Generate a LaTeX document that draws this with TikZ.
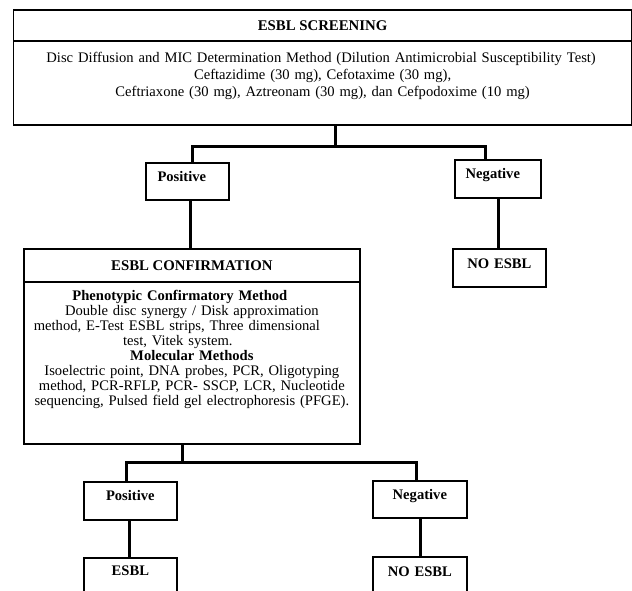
\documentclass[tikz,border=0pt]{standalone}
\usepackage{fontspec}
\setmainfont{Liberation Serif}
\begin{document}
\begin{tikzpicture}[x=1pt,y=-1pt,
  box/.style={draw=black, line width=1.7pt, inner sep=0pt, anchor=north west},
  conn/.style={draw=black, line width=3pt},
  hdr/.style={font=\fontsize{14.8}{17}\selectfont\bfseries},
  lbl/.style={font=\fontsize{14.6}{17}\selectfont\bfseries, align=center},
  bodyA/.style={font=\fontsize{14.6}{17}\selectfont, align=center},
  bodyB/.style={font=\fontsize{14.6}{15}\selectfont, align=center}]
\clip (0,0) rectangle (632,591);
% screening
\node[box, hdr, minimum width=618.5pt, minimum height=31pt] (scrH) at (12.5,9) {ESBL SCREENING};
\node[box, bodyA, text width=618.5pt, text height=21.5pt, text depth=62.5pt] (scrB) at (12.5,40)
  {\hspace*{-3pt}Disc Diffusion and MIC Determination Method (Dilution Antimicrobial Susceptibility Test)\\
   Ceftazidime (30 mg), Cefotaxime (30 mg),\\
   Ceftriaxone (30 mg), Aztreonam (30 mg), dan Cefpodoxime (10 mg)};
% first level
\node[box, lbl, text width=83pt, text height=18.8pt, text depth=18.2pt] (pos1) at (145,162) {\hspace*{-11pt}Positive};
\node[box, lbl, text width=86pt, text height=18.8pt, text depth=19.2pt] (neg1) at (454,159) {\hspace*{-10pt}Negative};
\node[box, lbl, text width=93pt, text height=19.8pt, text depth=18.2pt] (noesbl1) at (452,248) {NO ESBL};
% confirmation
\node[box, hdr, minimum width=336pt, minimum height=33pt] (confH) at (23,248) {ESBL CONFIRMATION};
\node[box, bodyB, text width=336pt, text height=18.5pt, text depth=143.5pt] (confB) at (23,281)
  {\hspace*{-24pt}{\bfseries Phenotypic Confirmatory Method}\\
   Double disc synergy / Disk approximation\\
   \hspace*{-30pt}method, E-Test ESBL strips, Three dimensional\\
   \hspace*{-28pt}test, Vitek system.\\
   {\bfseries Molecular Methods}\\
   Isoelectric point, DNA probes, PCR, Oligotyping\\
   method, PCR-RFLP, PCR- SSCP, LCR, Nucleotide\\
   sequencing, Pulsed field gel electrophoresis (PFGE).};
% second level
\node[box, lbl, text width=93pt, text height=18.8pt, text depth=19.2pt] (pos2) at (83,481) {Positive};
\node[box, lbl, text width=94pt, text height=18.8pt, text depth=18.2pt] (neg2) at (372,480) {Negative};
\node[box, lbl, text width=93pt, text height=17.8pt, text depth=26.2pt] (esbl) at (83,557) {ESBL};
\node[box, lbl, text width=94pt, text height=19.8pt, text depth=25.2pt] (noesbl2) at (372,556) {NO ESBL};
% connectors
\coordinate (a1) at (335,146.7);
\coordinate (a1l) at (192,146.7);
\coordinate (a1r) at (485,146.7);
\coordinate (p1x) at (190,0);
\coordinate (n1x) at (498,0);
\coordinate (a2) at (182,462);
\coordinate (a2l) at (126,462);
\coordinate (a2r) at (416,462);
\coordinate (p2x) at (129,0);
\coordinate (n2x) at (420,0);
\draw[conn] (scrB.south -| a1) -- (a1);
\draw[conn] (pos1.north -| a1l) -- (a1l) -- (a1r) -- (neg1.north -| a1r);
\draw[conn] (pos1.south -| p1x) -- (confH.north -| p1x);
\draw[conn] (neg1.south -| n1x) -- (noesbl1.north -| n1x);
\draw[conn] (confB.south -| a2) -- (a2);
\draw[conn] (pos2.north -| a2l) -- (a2l) -- (a2r) -- (neg2.north -| a2r);
\draw[conn] (pos2.south -| p2x) -- (esbl.north -| p2x);
\draw[conn] (neg2.south -| n2x) -- (noesbl2.north -| n2x);
\end{tikzpicture}
\end{document}
